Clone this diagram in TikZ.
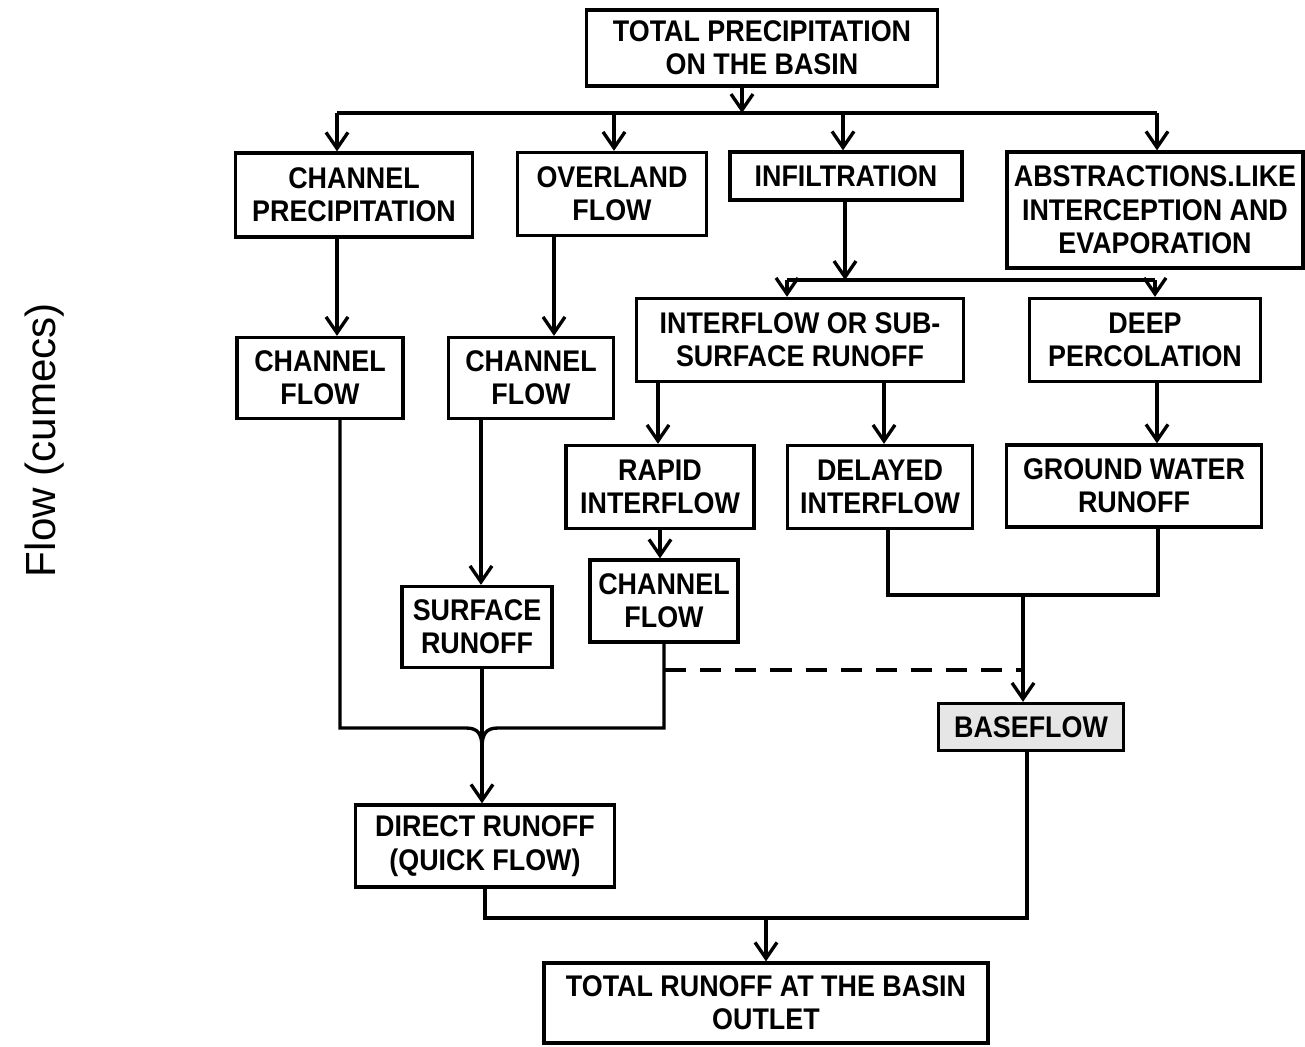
\documentclass[tikz,border=0pt]{standalone}
\usepackage{fontspec}
\setmainfont{Liberation Sans}
\newfontfamily\boitefont{Liberation Sans}[FakeStretch=0.9]
\usepackage{tikz}
\usetikzlibrary{arrows.meta,positioning}
\definecolor{grisclair}{HTML}{E6E6E6}
\tikzset{
  case/.style={draw,line width=1.9pt,align=center,inner sep=1pt,
               font=\boitefont\bfseries\fontsize{17}{19}\selectfont},
  taille/.style 2 args={minimum width=#1cm,minimum height=#2cm},
  trait/.style={line width=1.9pt},
  fleche/.style={trait,-{Straight Barb[length=3.2mm,width=4.4mm,line width=1.9pt]}},
}

\begin{document}
\begin{tikzpicture}[x=0.02cm,y=-0.02cm]
  \useasboundingbox (0,0) rectangle (1305,1046);
  \node[rotate=90,font=\fontsize{24}{28}\selectfont] (axe) at (45,440) {Flow (cumecs)};
  % boites
  \node[case,taille={7.02}{1.52}] (tp) at (762,48) {TOTAL PRECIPITATION\\ON THE BASIN};
  \node[case,taille={4.74}{1.68}] (cp) at (354,195) {CHANNEL\\PRECIPITATION};
  \node[case,taille={3.78}{1.66}] (of) at (612,194) {OVERLAND\\FLOW};
  \node[case,taille={4.64}{0.96}] (inf) at (846,176) {INFILTRATION};
  \node[case,taille={5.92}{2.32}] (abs) at (1155,210) {ABSTRACTIONS.LIKE\\INTERCEPTION AND\\EVAPORATION};
  \node[case,taille={3.32}{1.62}] (cf1) at (320,378) {CHANNEL\\FLOW};
  \node[case,taille={3.30}{1.62}] (cf2) at (531,378) {CHANNEL\\FLOW};
  \node[case,taille={6.54}{1.66}] (isr) at (800,340) {INTERFLOW OR SUB-\\SURFACE RUNOFF};
  \node[case,taille={4.62}{1.66}] (dp) at (1145,340) {DEEP\\PERCOLATION};
  \node[case,taille={3.76}{1.66}] (ri) at (660,487) {RAPID\\INTERFLOW};
  \node[case,taille={3.70}{1.66}] (di) at (880,487) {DELAYED\\INTERFLOW};
  \node[case,taille={5.10}{1.64}] (gw) at (1134,486) {GROUND WATER\\RUNOFF};
  \node[case,taille={2.96}{1.64}] (cf3) at (664,601) {CHANNEL\\FLOW};
  \node[case,taille={3.00}{1.62}] (sr) at (477,627) {SURFACE\\RUNOFF};
  \node[case,taille={3.70}{0.94},fill=grisclair] (bf) at (1031,727) {BASEFLOW};
  \node[case,taille={5.18}{1.64}] (dr) at (485,846) {DIRECT RUNOFF\\(QUICK FLOW)};
  \node[case,taille={8.88}{1.60}] (tr) at (766,1003) {TOTAL RUNOFF AT THE BASIN\\OUTLET};
  % jonctions
  \coordinate (ja) at (742,113);
  \coordinate (jg) at (337,113);
  \coordinate (jd) at (1157,113);
  \coordinate (ji) at (845,280);
  \coordinate (jig) at (787,280);
  \coordinate (jid) at (1155,280);
  \coordinate (jb) at (1023,595);
  \coordinate (jcf) at (665,670);
  \coordinate (jpt) at (1023,670);
  \coordinate (jm) at (482,748);
  \coordinate (jt) at (766,918);
  % liaisons
  \draw[fleche] (tp.south -| ja) -- (ja);
  \draw[trait] (jg) -- (jd);
  \foreach \x/\n in {337/cp,614/of,843/inf,1157/abs}
    \draw[fleche] (\x,113) -- (\x,0 |- \n.north);
  \draw[fleche] (337,0 |- cp.south) -- (337,0 |- cf1.north);
  \draw[fleche] (554,0 |- of.south) -- (554,0 |- cf2.north);
  \draw[fleche] (ji |- inf.south) -- (ji);
  \draw[trait] (jig) -- (jid);
  \draw[fleche] (jig) -- (jig |- isr.north);
  \draw[fleche] (jid) -- (jid |- dp.north);
  \draw[fleche] (658,0 |- isr.south) -- (658,0 |- ri.north);
  \draw[fleche] (884,0 |- isr.south) -- (884,0 |- di.north);
  \draw[fleche] (1157,0 |- dp.south) -- (1157,0 |- gw.north);
  \draw[fleche] (660,0 |- ri.south) -- (660,0 |- cf3.north);
  \draw[fleche] (481,0 |- cf2.south) -- (481,0 |- sr.north);
  \draw[trait] (888,0 |- di.south) |- (1158,595) -- (1158,0 |- gw.south);
  \draw[fleche] (jb) -- (jb |- bf.north);
  \draw[trait,dash pattern=on 12pt off 8pt] (jcf) -- (jpt);
  \draw[trait] (340,0 |- cf1.south) |- (466,728) .. controls (478,728) and (482,734) .. (jm);
  \draw[trait] (664,0 |- cf3.south) |- (498,728) .. controls (486,728) and (482,734) .. (jm);
  \draw[fleche] (jm |- sr.south) -- (jm |- dr.north);
  \draw[trait] (485,0 |- dr.south) |- (1027,918) -- (1027,0 |- bf.south);
  \draw[fleche] (jt) -- (jt |- tr.north);
\end{tikzpicture}
\end{document}
